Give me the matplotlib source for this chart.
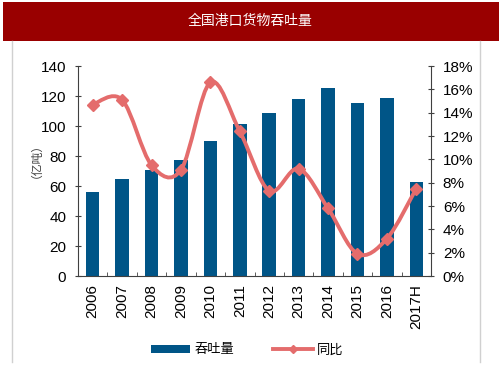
import matplotlib
matplotlib.use("Agg")
import matplotlib.pyplot as plt
from matplotlib.path import Path
from matplotlib.patches import PathPatch, Rectangle, Patch
from matplotlib.lines import Line2D
import numpy as np

categories = ["2006", "2007", "2008", "2009", "2010", "2011", "2012",
              "2013", "2014", "2015", "2016", "2017H"]
throughput = [56.2, 64.7, 70.9, 77.1, 90.0, 101.1, 108.4, 118.2, 125.1, 115.3, 118.9, 62.9]
yoy = [14.7, 15.1, 9.5, 9.1, 16.6, 12.4, 7.3, 9.2, 5.8, 1.9, 3.2, 7.5]

title = "全国港口货物吞吐量"
ylabel = "（亿吨）"
legend_labels = ["吞吐量", "同比"]

BLUE = "#005587"
RED = "#E46C6C"
TXT = "#000000"
LATIN = "Liberation Sans"
CJK = ["Noto Sans CJK SC", "DejaVu Sans"]

W, H = 503, 378
fig = plt.figure(figsize=(W / 100, H / 100), dpi=100)

# banner
fig.patches.append(Rectangle((3 / W, 1 - 41 / H), 496 / W, 39 / H,
                             transform=fig.transFigure, facecolor="#990000",
                             edgecolor="none", zorder=0))
fig.text(250 / W, 1 - 21 / H, title, color="white", fontsize=10,
         family=CJK, ha="center", va="center")
# side frame lines
for xp in (11.5, 480):
    fig.add_artist(Line2D([xp / W, xp / W], [1 - 41 / H, 1 - 362 / H],
                          transform=fig.transFigure, color="#D0D0D0", lw=1))

left, right, top, bottom = 78, 431, 66, 276
ax = fig.add_axes([left / W, 1 - bottom / H, (right - left) / W, (bottom - top) / H])
x = np.arange(len(categories))
ax.bar(x, throughput, width=0.46, color=BLUE, zorder=2)
ax.set_xlim(-0.5, len(categories) - 0.5)
ax.set_ylim(0, 140)
ax.set_yticks(np.arange(0, 141, 20))
ax.set_xticks(x)
ax.set_xticklabels(categories, rotation=90, fontsize=11, family=LATIN, color=TXT)
ax.set_xticks(np.arange(-0.5, len(categories), 1), minor=True)
ax.tick_params(axis="x", which="major", length=0, pad=6)
ax.tick_params(axis="x", which="minor", direction="in", length=3, color="#404040")
ax.tick_params(axis="y", direction="inout", length=5, color="#404040", pad=6)
for lab in ax.get_yticklabels():
    lab.set_family(LATIN)
    lab.set_fontsize(11)
for s in ("top", "right"):
    ax.spines[s].set_visible(False)
for s in ("left", "bottom"):
    ax.spines[s].set_color("#404040")

ax2 = ax.twinx()
ax2.set_ylim(0, 18)
ax2.set_yticks(np.arange(0, 19, 2))
ax2.set_yticklabels([f"{v}%" for v in range(0, 19, 2)], family=LATIN, fontsize=11)
ax2.tick_params(axis="y", direction="inout", length=5, color="#404040", pad=6)
for s in ("top", "left", "bottom"):
    ax2.spines[s].set_visible(False)
ax2.spines["right"].set_color("#404040")

# smoothed line (Catmull-Rom style bezier through data points)
pts = np.column_stack([x, yoy]).astype(float)
n = len(pts)
verts = [pts[0]]
codes = [Path.MOVETO]
for i in range(n - 1):
    p0 = pts[i - 1] if i > 0 else pts[i]
    p1 = pts[i]
    p2 = pts[i + 1]
    p3 = pts[i + 2] if i + 2 < n else pts[i + 1]
    c1 = p1 + (p2 - p0) / 6
    c2 = p2 - (p3 - p1) / 6
    verts += [c1, c2, p2]
    codes += [Path.CURVE4] * 3
ax2.add_patch(PathPatch(Path(verts, codes), facecolor="none", edgecolor=RED,
                        lw=2.8, zorder=3, capstyle="round"))
ax2.plot(x, yoy, linestyle="none", marker="D", markersize=6.5, color=RED, zorder=4)

fig.text(30 / W, 1 - 155 / H, ylabel, rotation=90, fontsize=8.5, family=CJK,
         color="#404040", ha="center", va="center")

handles = [Patch(facecolor=BLUE, edgecolor="none"),
           Line2D([0], [0], color=RED, lw=2.8, marker="D", markersize=4)]
leg = fig.legend(handles, legend_labels, loc="center", bbox_to_anchor=(247 / W, 1 - 350 / H),
                 ncol=2, frameon=False, prop={"family": CJK, "size": 9.5},
                 handlelength=3.0, handleheight=0.6, columnspacing=3.0, handletextpad=0.3)

fig.savefig("out.png", dpi=100)
